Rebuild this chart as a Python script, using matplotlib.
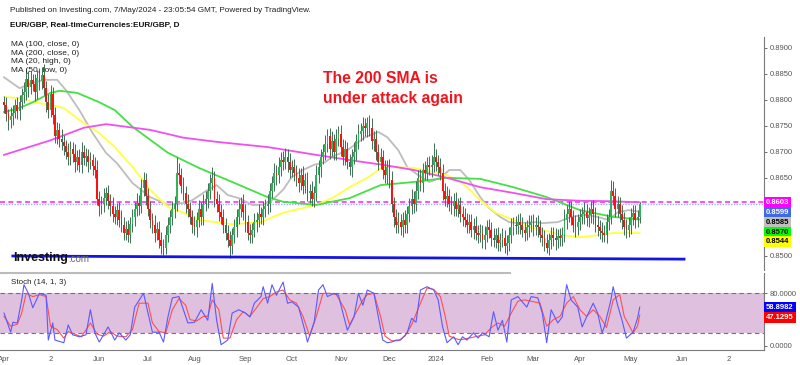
"""
EUR/GBP daily chart with moving averages and a stochastic pane (TradingView style).
Run: python plot.py  -> out.png
"""
import numpy as np
import matplotlib
matplotlib.use("Agg")
import matplotlib.pyplot as plt

plt.rcParams["font.family"] = ["Liberation Sans", "DejaVu Sans"]

W, H = 800, 365

# ---- daily candles, Apr 3 2023 .. May 7 2024 (bar index = trading day) ----
FIRST_OPEN = 0.8795
CLOSE = [
    0.8790, 0.8772, 0.8760, 0.8768, 0.8775, 0.8790, 0.8778, 0.8795, 0.8808, 0.8815, 0.8840, 0.8825,
    0.8838, 0.8830, 0.8815, 0.8842, 0.8835, 0.8848, 0.8822, 0.8795, 0.8780, 0.8810, 0.8770, 0.8730,
    0.8742, 0.8725, 0.8718, 0.8712, 0.8700, 0.8690, 0.8705, 0.8695, 0.8680, 0.8690, 0.8675, 0.8700,
    0.8688, 0.8692, 0.8680, 0.8685, 0.8672, 0.8665, 0.8610, 0.8595, 0.8600, 0.8612, 0.8620, 0.8605,
    0.8595, 0.8580, 0.8575, 0.8588, 0.8570, 0.8560, 0.8545, 0.8552, 0.8540, 0.8562, 0.8575, 0.8590,
    0.8602, 0.8595, 0.8630, 0.8645, 0.8615, 0.8590, 0.8570, 0.8560, 0.8545, 0.8552, 0.8530, 0.8520,
    0.8515, 0.8540, 0.8560, 0.8575, 0.8590, 0.8600, 0.8660, 0.8655, 0.8635, 0.8620, 0.8600, 0.8590,
    0.8575, 0.8560, 0.8555, 0.8570, 0.8590, 0.8575, 0.8600, 0.8610, 0.8625, 0.8640, 0.8650, 0.8610,
    0.8600, 0.8585, 0.8575, 0.8560, 0.8545, 0.8530, 0.8520, 0.8540, 0.8555, 0.8575, 0.8590, 0.8600,
    0.8585, 0.8565, 0.8545, 0.8540, 0.8550, 0.8565, 0.8570, 0.8580, 0.8575, 0.8590, 0.8595, 0.8600,
    0.8625, 0.8640, 0.8660, 0.8655, 0.8670, 0.8685, 0.8680, 0.8690, 0.8680, 0.8665, 0.8670, 0.8660,
    0.8650, 0.8640, 0.8655, 0.8635, 0.8645, 0.8620, 0.8625, 0.8610, 0.8620, 0.8655, 0.8670, 0.8690,
    0.8700, 0.8715, 0.8730, 0.8705, 0.8720, 0.8700, 0.8725, 0.8735, 0.8710, 0.8690, 0.8705, 0.8680,
    0.8670, 0.8690, 0.8700, 0.8720, 0.8735, 0.8740, 0.8750, 0.8745, 0.8755, 0.8745, 0.8720, 0.8725,
    0.8700, 0.8680, 0.8690, 0.8665, 0.8655, 0.8670, 0.8645, 0.8600, 0.8575, 0.8560, 0.8565, 0.8555,
    0.8570, 0.8560, 0.8580, 0.8595, 0.8610, 0.8600, 0.8625, 0.8650, 0.8640, 0.8665, 0.8660, 0.8675,
    0.8670, 0.8675, 0.8690, 0.8680, 0.8670, 0.8660, 0.8625, 0.8610, 0.8615, 0.8600, 0.8595, 0.8605,
    0.8590, 0.8598, 0.8580, 0.8575, 0.8570, 0.8560, 0.8565, 0.8550, 0.8558, 0.8545, 0.8540, 0.8545,
    0.8530, 0.8540, 0.8555, 0.8550, 0.8535, 0.8530, 0.8540, 0.8525, 0.8530, 0.8535, 0.8520, 0.8525,
    0.8540, 0.8555, 0.8560, 0.8558, 0.8565, 0.8560, 0.8550, 0.8545, 0.8555, 0.8560, 0.8565, 0.8555,
    0.8560, 0.8555, 0.8540, 0.8535, 0.8525, 0.8515, 0.8530, 0.8540, 0.8535, 0.8530, 0.8538, 0.8535,
    0.8540, 0.8570, 0.8580, 0.8590, 0.8575, 0.8560, 0.8555, 0.8565, 0.8575, 0.8580, 0.8585, 0.8572,
    0.8578, 0.8590, 0.8580, 0.8560, 0.8555, 0.8548, 0.8545, 0.8540, 0.8565, 0.8575, 0.8625, 0.8615,
    0.8590, 0.8600, 0.8580, 0.8570, 0.8555, 0.8550, 0.8560, 0.8575, 0.8582, 0.8570, 0.8575, 0.8599,
]
# wick lengths above / below the body, in pips
UP_WICK = [
    12, 15, 10, 18, 14, 11, 16, 13, 15, 18, 20, 14, 17, 12, 19, 15, 18, 14, 21, 13, 15, 18, 14, 16,
    15, 13, 18, 14, 11, 16, 15, 13, 19, 14, 15, 18, 13, 16, 14, 15, 11, 18, 20, 14, 15, 18, 13, 16,
    14, 18, 15, 13, 16, 19, 14, 15, 18, 13, 16, 14, 19, 15, 18, 16, 14, 16, 15, 13, 18, 14, 15, 16,
    13, 18, 15, 14, 16, 15, 29, 18, 14, 16, 15, 19, 14, 13, 16, 15, 18, 14, 19, 15, 16, 18, 21, 14,
    15, 18, 14, 16, 13, 15, 18, 14, 16, 15, 19, 14, 18, 15, 13, 16, 14, 18, 15, 19, 14, 16, 15, 18,
    16, 14, 18, 15, 19, 14, 16, 17, 15, 18, 14, 16, 15, 19, 14, 18, 15, 16, 13, 18, 15, 19, 14, 16,
    15, 18, 14, 16, 19, 15, 18, 14, 16, 15, 18, 13, 16, 15, 19, 14, 18, 15, 16, 14, 12, 15, 19, 14,
    16, 15, 18, 14, 19, 15, 16, 18, 14, 15, 19, 16, 14, 18, 15, 16, 19, 14, 18, 15, 16, 14, 18, 15,
    16, 18, 27, 15, 14, 18, 16, 15, 19, 14, 16, 15, 18, 14, 16, 15, 18, 13, 16, 15, 14, 18, 15, 16,
    15, 18, 14, 16, 15, 19, 14, 16, 15, 18, 14, 16, 15, 18, 14, 16, 15, 18, 14, 16, 15, 19, 14, 16,
    15, 18, 14, 16, 15, 18, 14, 16, 15, 18, 14, 16, 15, 20, 18, 15, 16, 14, 18, 15, 16, 14, 18, 15,
    16, 15, 18, 14, 16, 15, 18, 14, 16, 15, 21, 18, 15, 16, 14, 18, 15, 16, 14, 18, 15, 16, 14, 4,
]
DN_WICK = [
    15, 13, 18, 14, 16, 11, 15, 18, 13, 14, 16, 19, 15, 14, 18, 13, 16, 15, 14, 18, 15, 13, 16, 14,
    16, 15, 14, 18, 13, 15, 16, 14, 18, 15, 13, 16, 14, 15, 18, 14, 16, 15, 13, 18, 14, 16, 15, 14,
    18, 15, 14, 16, 15, 13, 14, 15, 14, 16, 15, 18, 14, 16, 13, 15, 18, 14, 16, 15, 18, 14, 15, 16,
    14, 12, 14, 16, 15, 18, 14, 16, 15, 13, 18, 15, 14, 16, 15, 18, 14, 16, 15, 13, 18, 15, 14, 16,
    15, 18, 14, 16, 15, 13, 24, 16, 15, 18, 14, 16, 15, 18, 14, 15, 16, 14, 18, 15, 13, 16, 15, 14,
    16, 14, 15, 18, 14, 16, 15, 13, 18, 15, 14, 16, 15, 18, 14, 16, 15, 14, 18, 15, 16, 14, 15, 18,
    14, 16, 15, 18, 14, 15, 16, 14, 18, 15, 16, 14, 15, 18, 14, 16, 15, 14, 18, 15, 16, 14, 15, 18,
    16, 15, 14, 18, 15, 16, 14, 15, 19, 16, 15, 14, 18, 15, 16, 14, 15, 18, 14, 16, 15, 18, 14, 15,
    15, 18, 14, 16, 15, 14, 18, 15, 16, 14, 15, 18, 14, 16, 15, 18, 14, 15, 16, 14, 18, 15, 16, 14,
    15, 16, 14, 16, 15, 13, 14, 16, 15, 12, 14, 18, 15, 16, 14, 16, 15, 18, 14, 16, 15, 18, 14, 16,
    15, 18, 14, 16, 15, 10, 14, 16, 15, 18, 14, 16, 15, 14, 18, 15, 16, 14, 18, 15, 16, 14, 18, 15,
    16, 15, 18, 14, 16, 15, 18, 14, 16, 15, 13, 18, 15, 16, 14, 18, 15, 16, 14, 18, 15, 16, 14, 12,
]

# ---- moving averages (bar index, price) ----
MA100_X = [0, 7, 13, 21, 25, 33, 43, 50, 58, 74, 88, 103, 119, 126, 141, 156, 170, 185, 200,
           215, 230, 245, 260, 275, 287]
MA100_Y = [0.8776, 0.8784, 0.8795, 0.8813, 0.8817, 0.8813, 0.8795, 0.8780, 0.8748, 0.8698,
           0.8669, 0.8642, 0.8613, 0.8604, 0.8598, 0.8611, 0.8636, 0.8642, 0.8650, 0.8648,
           0.8632, 0.8613, 0.8588, 0.8575, 0.8570]
MA200_X = [0, 21, 36, 46, 66, 81, 96, 119, 141, 156, 171, 185, 200, 215, 230, 245, 260, 275, 287]
MA200_Y = [0.8694, 0.8722, 0.8746, 0.8753, 0.8742, 0.8727, 0.8719, 0.8709, 0.8694, 0.8684,
           0.8675, 0.8665, 0.8650, 0.8632, 0.8621, 0.8609, 0.8606, 0.8605, 0.8603]
MA20H_X = [0, 7, 13, 18, 24, 28, 34, 40, 46, 51, 58, 66, 74, 81, 85, 92, 96, 101, 106, 112,
           117, 121, 126, 130, 135, 140, 145, 148, 155, 163, 169, 173, 178, 182, 187, 192, 197,
           201, 206, 210, 215, 219, 224, 228, 233, 240, 243, 250, 256, 262, 268, 273, 277, 282,
           287]
MA20H_Y = [0.8843, 0.8822, 0.8832, 0.8838, 0.8838, 0.8818, 0.8780, 0.8736, 0.8698, 0.8678,
           0.8640, 0.8613, 0.8598, 0.8602, 0.8607, 0.8627, 0.8636, 0.8617, 0.8611, 0.8598,
           0.8598, 0.8607, 0.8627, 0.8652, 0.8665, 0.8675, 0.8680, 0.8690, 0.8703, 0.8728,
           0.8738, 0.8728, 0.8703, 0.8671, 0.8655, 0.8642, 0.8650, 0.8665, 0.8665, 0.8646,
           0.8613, 0.8592, 0.8575, 0.8565, 0.8563, 0.8565, 0.8563, 0.8565, 0.8575, 0.8579,
           0.8575, 0.8569, 0.8584, 0.8588, 0.8585]
MA50L_X = [0, 7, 13, 21, 27, 34, 43, 50, 58, 66, 74, 81, 88, 103, 116, 126, 141, 149, 156, 164,
           171, 185, 200, 207, 215, 222, 230, 237, 245, 252, 260, 268, 275, 287]
MA50L_Y = [0.8805, 0.8803, 0.8795, 0.8790, 0.8784, 0.8761, 0.8736, 0.8709, 0.8671, 0.8627,
           0.8594, 0.8583, 0.8569, 0.8561, 0.8565, 0.8583, 0.8598, 0.8613, 0.8632, 0.8650,
           0.8671, 0.8669, 0.8655, 0.8640, 0.8607, 0.8583, 0.8569, 0.8556, 0.8548, 0.8540,
           0.8536, 0.8540, 0.8544, 0.8544]

# ---- stochastic (14, 1, 3) ----
STOCH_K_X = [0, 3, 4, 6, 8, 9, 11, 13, 16, 19, 20, 22, 23, 27, 29, 31, 34, 37, 39, 41,
             43, 47, 50, 52, 55, 57, 59, 63, 65, 67, 70, 72, 74, 76, 79, 81, 83, 86, 89, 92,
             94, 96, 98, 101, 103, 106, 109, 111, 113, 116, 117, 119, 121, 123, 126, 128, 130, 133, 136, 137,
             140, 142, 144, 146, 149, 151, 153, 155, 158, 160, 162, 164, 167, 169, 171, 173, 175, 177, 179, 182,
             184, 186, 188, 191, 194, 196, 198, 200, 203, 205, 207, 209, 212, 214, 216, 219, 221, 223, 225, 227,
             229, 232, 234, 236, 238, 241, 243, 245, 247, 250, 252, 254, 256, 259, 261, 263, 266, 268, 270, 271,
             274, 275, 277, 279, 281, 284, 286, 287]
STOCH_K_Y = [50, 21, 36, 35, 70, 93, 80, 58, 80, 77, 9, 35, 9, 5, 32, 17, 14, 17, 55, 20,
             6, 29, 9, 20, 9, 17, 59, 80, 50, 21, 21, 6, 44, 73, 75, 55, 35, 36, 55, 39,
             95, 39, 2, 9, 50, 55, 50, 44, 65, 75, 90, 65, 93, 77, 97, 65, 67, 59, 21, 6,
             36, 85, 93, 75, 80, 77, 50, 24, 44, 80, 62, 85, 80, 44, 9, 5, 6, 9, 9, 20,
             42, 36, 85, 90, 85, 70, 29, 5, 14, 2, 14, 9, 20, 12, 20, 14, 52, 24, 39, 6,
             70, 75, 67, 59, 75, 73, 50, 5, 55, 35, 44, 93, 70, 59, 29, 44, 65, 50, 20, 29,
             70, 90, 62, 39, 12, 21, 42, 58.9]
STOCH_D_X = [0, 3, 6, 8, 10, 13, 16, 19, 21, 24, 27, 29, 32, 35, 39, 42, 45, 48, 51, 55,
             58, 61, 65, 67, 70, 73, 76, 79, 82, 84, 87, 90, 92, 94, 97, 99, 102, 105, 108, 111,
             114, 117, 120, 123, 126, 129, 132, 135, 138, 141, 144, 147, 150, 154, 156, 158, 162, 164, 167, 170,
             172, 175, 178, 181, 184, 188, 191, 194, 197, 199, 201, 205, 207, 210, 214, 217, 220, 223, 226, 229,
             232, 235, 238, 242, 245, 248, 251, 254, 257, 260, 263, 266, 269, 272, 275, 278, 280, 284, 286, 287]
STOCH_D_Y = [45, 30, 33, 50, 80, 75, 78, 75, 30, 25, 12, 22, 18, 14, 35, 18, 15, 22, 15, 14,
             25, 65, 65, 35, 22, 20, 55, 72, 62, 40, 38, 45, 45, 70, 55, 12, 12, 40, 52, 45,
             58, 72, 75, 82, 85, 70, 65, 45, 15, 45, 80, 80, 78, 55, 32, 45, 70, 78, 80, 45,
             15, 8, 8, 15, 32, 65, 88, 86, 75, 48, 15, 10, 10, 12, 15, 17, 28, 35, 30, 50,
             68, 70, 68, 65, 30, 40, 45, 65, 75, 55, 45, 55, 45, 28, 70, 78, 45, 20, 30, 47.1]

SUPPORT_X = [4, 307]
SUPPORT_Y = [0.8500, 0.8494]
MA200_LAST = 0.8603
LAST_PRICE = 0.8599

PRICE_TICKS = [0.8500, 0.8650, 0.8700, 0.8750, 0.8800, 0.8850, 0.8900]
XTICK_POS = [0, 21, 43, 65, 86, 109, 130, 152, 174, 195, 218, 239, 260, 283, 306, 327]
XTICK_LABELS = ["Apr", "2", "Jun", "Jul", "Aug", "Sep", "Oct", "Nov", "Dec", "2024",
                "Feb", "Mar", "Apr", "May", "Jun", "2"]

# right-edge value tags: (text, pixel y, background, text colour)
PRICE_TAGS = [
    ("0.8603", 202.5, "#ff00ff", "white"),
    ("0.8599", 212.5, "#4169e1", "white"),
    ("0.8585", 222.0, "#c0c0c0", "black"),
    ("0.8570", 232.0, "#00ff00", "black"),
    ("0.8544", 241.7, "#ffff00", "black"),
]
STOCH_TAGS = [
    ("58.8982", 307.7, "#0000ff", "white"),
    ("47.1295", 317.7, "#ff0000", "white"),
]

# pixel -> data mapping for the two panes
X_LEFT, X_RIGHT = -1.806, 343.1
MAIN_TOP_PX, MAIN_BOT_PX = 37, 270
STO_TOP_PX, STO_BOT_PX = 273, 350
AXIS_PX = 764


def fx(px):
    return px / W


def fy(py):
    return 1 - py / H


def build_ohlc():
    close = np.array(CLOSE)
    opens = np.concatenate([[FIRST_OPEN], close[:-1]])
    high = np.maximum(opens, close) + np.array(UP_WICK) / 10000.0
    low = np.minimum(opens, close) - np.array(DN_WICK) / 10000.0
    return opens, high, low, close


def draw_main(ax, opens, high, low, close):
    idx = np.arange(len(close))
    up = close >= opens
    ax.vlines(idx, low, high, color="#3f6f52", linewidth=0.7, zorder=3)
    body = np.maximum(np.abs(close - opens), 0.00008)
    bottom = np.minimum(opens, close)
    ax.bar(idx[up], body[up], bottom=bottom[up], width=0.8, color="#2fb45a", zorder=4, linewidth=0)
    ax.bar(idx[~up], body[~up], bottom=bottom[~up], width=0.8, color="#ff1010", zorder=4, linewidth=0)

    ax.plot(MA20H_X, MA20H_Y, color="#bdbdbd", linewidth=1.3, zorder=2)
    ax.plot(MA50L_X, MA50L_Y, color="#ffff40", linewidth=1.3, zorder=2)
    ax.plot(MA100_X, MA100_Y, color="#44e044", linewidth=1.3, zorder=2)
    ax.plot(MA200_X, MA200_Y, color="#f050f0", linewidth=1.3, zorder=2)

    ax.axhline(LAST_PRICE, color="#9fb0ff", linewidth=1.0, linestyle=(0, (1, 1)), zorder=1)
    ax.axhline(MA200_LAST, color="#ff30ff", linewidth=1.2, linestyle=(0, (3, 2)), zorder=1)
    ax.plot(SUPPORT_X, SUPPORT_Y, color="#1414e6", linewidth=2.0, zorder=5)

    y_top = 0.85 + (256 - MAIN_TOP_PX) / 5212.0
    y_bot = 0.85 + (256 - MAIN_BOT_PX) / 5212.0
    ax.set_xlim(X_LEFT, X_RIGHT)
    ax.set_ylim(y_bot, y_top)
    for side in ["top", "left", "bottom"]:
        ax.spines[side].set_visible(False)
    ax.spines["right"].set_color("#7a7a7a")
    ax.set_xticks([])
    ax.yaxis.tick_right()
    ax.set_yticks(PRICE_TICKS)
    ax.set_yticklabels(["{:.4f}".format(v) for v in PRICE_TICKS])
    ax.tick_params(axis="y", labelsize=5.5, colors="#555555", length=2, pad=2, width=0.6)
    ax.patch.set_alpha(0)


def draw_stoch(ax2):
    ax2.axhspan(20, 80, color="#dfc0df", zorder=0, linewidth=0)
    ax2.axhline(80, color="#806a80", linewidth=0.8, linestyle=(0, (4, 3)), zorder=1)
    ax2.axhline(20, color="#806a80", linewidth=0.8, linestyle=(0, (4, 3)), zorder=1)
    ax2.plot(STOCH_K_X, STOCH_K_Y, color="#5a5aff", linewidth=0.8, zorder=3)
    ax2.plot(STOCH_D_X, STOCH_D_Y, color="#ff5050", linewidth=0.8, zorder=2)

    lo_v = -(STO_BOT_PX - 346) / 0.6588
    hi_v = (346 - STO_TOP_PX) / 0.6588
    ax2.set_xlim(X_LEFT, X_RIGHT)
    ax2.set_ylim(lo_v, hi_v)
    for side in ["top", "left"]:
        ax2.spines[side].set_visible(False)
    ax2.spines["right"].set_color("#7a7a7a")
    ax2.spines["bottom"].set_color("#7a7a7a")
    ax2.yaxis.tick_right()
    ax2.set_yticks([0, 80])
    ax2.set_yticklabels(["0.0000", "80.0000"])
    ax2.tick_params(axis="y", labelsize=5.5, colors="#555555", length=2, pad=2, width=0.6)
    ax2.set_xticks(XTICK_POS)
    ax2.set_xticklabels(XTICK_LABELS)
    ax2.tick_params(axis="x", labelsize=5.5, colors="#555555", length=0, pad=4)
    ax2.patch.set_alpha(0)


def draw_texts(fig):
    fig.text(fx(10), fy(10), "Published on Investing.com, 7/May/2024 - 23:05:54 GMT, Powered by TradingView.",
             fontsize=5.9, color="#222222", va="center", ha="left")
    fig.text(fx(10), fy(25), "EUR/GBP, Real-timeCurrencies:EUR/GBP, D",
             fontsize=5.9, color="#111111", fontweight="bold", va="center", ha="left")
    legend = ["MA (100, close, 0)", "MA (200, close, 0)", "MA (20, high, 0)", "MA (50, low, 0)"]
    for n, line in enumerate(legend):
        fig.text(fx(11), fy(44.5 + n * 8.6), line, fontsize=6.0, color="#222222", va="center", ha="left")
    fig.text(fx(323), fy(78.5), "The 200 SMA is", fontsize=11.3, color="#f0141e",
             fontweight="bold", va="center", ha="left")
    fig.text(fx(323), fy(98), "under attack again", fontsize=11.3, color="#f0141e",
             fontweight="bold", va="center", ha="left")
    fig.text(fx(11), fy(282.7), "Stoch (14, 1, 3)", fontsize=5.8, color="#222222", va="center", ha="left")
    fig.text(fx(13), fy(257.5), "Investing", fontsize=9.0, color="#111111", fontweight="bold",
             va="center", ha="left", zorder=10)
    fig.text(fx(68), fy(258.5), ".com", fontsize=7.0, color="#666666", va="center", ha="left", zorder=10)

    for txt, py, bg, fg in PRICE_TAGS + STOCH_TAGS:
        fig.text(fx(766), fy(py), txt, fontsize=5.5, color=fg, fontweight="bold", va="center", ha="left",
                 bbox=dict(boxstyle="square,pad=0.25", facecolor=bg, edgecolor="none"), zorder=10)

    # pane separator
    fig.add_artist(plt.Line2D([0, fx(510)], [fy(272.5), fy(272.5)], color="#bbbbbb", linewidth=1.5))


def main():
    opens, high, low, close = build_ohlc()
    fig = plt.figure(figsize=(W / 100, H / 100), dpi=100)
    fig.patch.set_facecolor("white")
    ax = fig.add_axes([0, fy(MAIN_BOT_PX), fx(AXIS_PX), (MAIN_BOT_PX - MAIN_TOP_PX) / H])
    ax2 = fig.add_axes([0, fy(STO_BOT_PX), fx(AXIS_PX), (STO_BOT_PX - STO_TOP_PX) / H])
    draw_main(ax, opens, high, low, close)
    draw_stoch(ax2)
    draw_texts(fig)
    fig.savefig("out.png", dpi=100, facecolor="white")
    plt.close(fig)


if __name__ == "__main__":
    main()
